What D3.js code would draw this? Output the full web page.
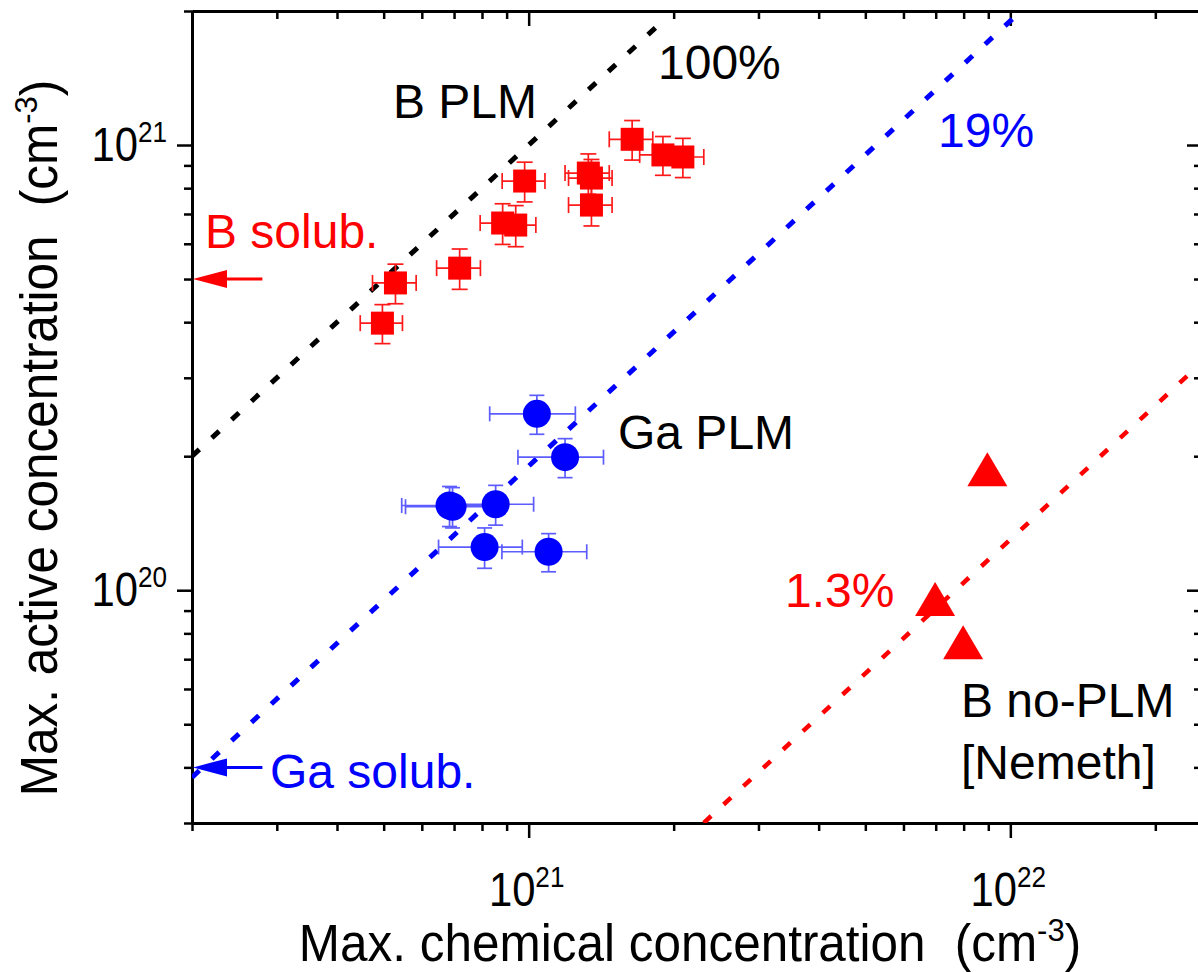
<!DOCTYPE html>
<html>
<head>
<meta charset="utf-8">
<script src="https://cdn.jsdelivr.net/npm/d3@7"></script>
<style>
  html, body { margin: 0; padding: 0; background: #fff; }
  svg { display: block; font-family: "Liberation Sans", Arial, Helvetica, sans-serif; }
</style>
</head>
<body>
<svg id="chart" width="1198" height="972"></svg>
<script>
// Boron, pulsed laser melting: max. chemical vs. max. active concentration (cm^-3)
const bPlmChem   = [4.97e20, 5.29e20, 7.19e20, 8.83e20, 9.40e20, 9.81e20, 1.33e21, 1.35e21, 1.35e21, 1.64e21, 1.90e21, 2.09e21];
const bPlmActive = [3.98e20, 4.90e20, 5.29e20, 6.68e20, 6.61e20, 8.30e20, 8.65e20, 8.43e20, 7.33e20, 1.03e21, 9.50e20, 9.40e20];
const bPlmChemErr   = [0.50e20, 0.55e20, 0.75e20, 0.90e20, 0.95e20, 1.00e20, 1.40e20, 1.40e20, 1.40e20, 1.70e20, 2.00e20, 2.20e20];
const bPlmActiveErr = [0.40e20, 0.50e20, 0.55e20, 0.70e20, 0.70e20, 0.85e20, 0.90e20, 0.85e20, 0.75e20, 1.05e20, 0.95e20, 0.95e20];

// Gallium, pulsed laser melting
const gaPlmChem   = [1.04e21, 1.19e21, 6.85e20, 6.95e20, 8.54e20, 8.10e20, 1.10e21];
const gaPlmActive = [2.49e20, 1.99e20, 1.55e20, 1.54e20, 1.56e20, 1.25e20, 1.22e20];
const gaPlmChemErr   = [2.1e20, 2.4e20, 1.4e20, 1.4e20, 1.7e20, 1.6e20, 2.2e20];
const gaPlmActiveErr = [2.5e19, 2.0e19, 1.6e19, 1.6e19, 1.6e19, 1.3e19, 1.2e19];

// Boron without PLM [Nemeth]
const bNoPlmChem   = [8.96e21, 6.98e21, 7.98e21];
const bNoPlmActive = [1.87e20, 9.55e19, 7.64e19];

// Activation-ratio guide lines (active = ratio * chemical)
const ratioLabels = ["100%", "19%", "1.3%"];
const ratioValues = [1.0, 0.19, 0.013];
const ratioChemFrom = [2.0e20, 2.0e20, 2.31e21];
const ratioChemTo   = [1.9e21, 1.05e22, 2.5e22];
const ratioColors   = ["#000000", "#0000ff", "#ff0000"];

// Solid solubility limits marked on the active-concentration axis
const solubLabels = ["B solub.", "Ga solub."];
const solubValues = [5.0e20, 4.0e19];
const solubColors = ["#ff0000", "#0000ff"];
const solubArrowTail = 2.8e20;

// Axis ticks
const xMajorTicks = [1e21, 1e22];
const xMinorTicks = [2e20, 3e20, 4e20, 5e20, 6e20, 7e20, 8e20, 9e20,
                     2e21, 3e21, 4e21, 5e21, 6e21, 7e21, 8e21, 9e21, 2e22];
const yMajorTicks = [1e20, 1e21];
const yMinorTicks = [3e19, 4e19, 5e19, 6e19, 7e19, 8e19, 9e19,
                     2e20, 3e20, 4e20, 5e20, 6e20, 7e20, 8e20, 9e20, 2e21];
const xDomain = [2e20, 2.5e22];
const yDomain = [3e19, 2e21];

const svg = d3.select("#chart");
const W = 1198, H = 972;
const plot = { left: 192, right: 1202, top: 11, bottom: 823 };

svg.append("rect").attr("width", W).attr("height", H).attr("fill", "#fff");

const x = d3.scaleLog().domain(xDomain).range([plot.left, plot.right]);
const y = d3.scaleLog().domain(yDomain).range([plot.bottom, plot.top]);

// ---- axes: outward ticks bottom/left, inward ticks top/right ----
function styleAxis(g) {
  g.selectAll("text").remove();
  g.select(".domain").attr("stroke", "#000").attr("stroke-width", 3);
  g.selectAll(".tick line").attr("stroke", "#000").attr("stroke-width", 2.5);
}
function addAxis(gen, transform, ticks, size) {
  svg.append("g")
    .attr("transform", transform)
    .call(gen.tickValues(ticks).tickSizeInner(size).tickSizeOuter(0).tickFormat(""))
    .call(styleAxis);
}
addAxis(d3.axisBottom(x), `translate(0,${plot.bottom})`, xMinorTicks, 8);
addAxis(d3.axisBottom(x), `translate(0,${plot.bottom})`, xMajorTicks, 15);
addAxis(d3.axisTop(x), `translate(0,${plot.top})`, xMinorTicks, -8);
addAxis(d3.axisTop(x), `translate(0,${plot.top})`, xMajorTicks, -15);
addAxis(d3.axisLeft(y), `translate(${plot.left},0)`, yMinorTicks, 8);
addAxis(d3.axisLeft(y), `translate(${plot.left},0)`, yMajorTicks, 15);
addAxis(d3.axisRight(y), `translate(${plot.right},0)`, yMinorTicks, -8);
addAxis(d3.axisRight(y), `translate(${plot.right},0)`, yMajorTicks, -15);

// ---- power-of-ten tick labels (condensed face) ----
function powLabel(px, py, v, anchor) {
  const e = Math.round(Math.log10(v));
  const t = svg.append("g").attr("transform", `translate(${px},${py}) scale(0.87,1)`)
    .append("text").attr("text-anchor", anchor).attr("font-size", 48).attr("fill", "#000");
  t.append("tspan").text("10");
  t.append("tspan").attr("font-size", 30).attr("dy", -19).text(e);
}
xMajorTicks.forEach(v => powLabel(x(v) - 2, 906, v, "middle"));
yMajorTicks.forEach(v => powLabel(167, y(v) + 16, v, "end"));

// ---- axis titles ----
function titleText(g, main) {
  const t = g.append("text").attr("text-anchor", "middle").attr("font-size", 51).attr("fill", "#000");
  t.append("tspan").text(main);
  t.append("tspan").attr("dx", 30).text("(cm");
  t.append("tspan").attr("font-size", 32).attr("dy", -20).text("-3");
  t.append("tspan").attr("dy", 20).text(")");
}
titleText(svg.append("g").attr("transform", "translate(690,961) scale(0.97,1)"),
          "Max. chemical concentration");
titleText(svg.append("g").attr("transform", "translate(57,438) rotate(-90) scale(0.97,1)"),
          "Max. active concentration");

// ---- clip to plot area ----
svg.append("clipPath").attr("id", "plotClip")
  .append("rect").attr("x", plot.left).attr("y", plot.top)
  .attr("width", plot.right - plot.left).attr("height", plot.bottom - plot.top);
const area = svg.append("g").attr("clip-path", "url(#plotClip)");

// ---- ratio guide lines ----
ratioValues.forEach((r, i) => {
  const pts = [[ratioChemFrom[i], r * ratioChemFrom[i]], [ratioChemTo[i], r * ratioChemTo[i]]];
  area.append("path")
    .attr("d", d3.line().x(d => x(d[0])).y(d => y(d[1]))(pts))
    .attr("fill", "none").attr("stroke", ratioColors[i])
    .attr("stroke-width", i === 2 ? 4.5 : 5)
    .attr("stroke-dasharray", "10 17");
});

// ---- error bars ----
function errorBars(xs, ys, xe, ye, color, cap) {
  const g = area.append("g").attr("stroke", color).attr("stroke-width", 1.7).attr("fill", "none");
  xs.forEach((xv, i) => {
    const yv = ys[i];
    const cx = x(xv), cy = y(yv);
    const x0 = x(xv - xe[i]), x1 = x(xv + xe[i]);
    const y0 = y(yv - ye[i]), y1 = y(yv + ye[i]);
    g.append("line").attr("x1", x0).attr("x2", x1).attr("y1", cy).attr("y2", cy);
    g.append("line").attr("x1", x0).attr("x2", x0).attr("y1", cy - cap / 2).attr("y2", cy + cap / 2);
    g.append("line").attr("x1", x1).attr("x2", x1).attr("y1", cy - cap / 2).attr("y2", cy + cap / 2);
    g.append("line").attr("x1", cx).attr("x2", cx).attr("y1", y0).attr("y2", y1);
    g.append("line").attr("x1", cx - cap / 2).attr("x2", cx + cap / 2).attr("y1", y0).attr("y2", y0);
    g.append("line").attr("x1", cx - cap / 2).attr("x2", cx + cap / 2).attr("y1", y1).attr("y2", y1);
  });
}
errorBars(bPlmChem, bPlmActive, bPlmChemErr, bPlmActiveErr, "#ff1a1a", 16);
errorBars(gaPlmChem, gaPlmActive, gaPlmChemErr, gaPlmActiveErr, "#5c5cff", 15);

// ---- markers ----
const sq = 23;
area.append("g").selectAll("rect").data(bPlmChem.map((v, i) => [v, bPlmActive[i]]))
  .join("rect")
  .attr("x", d => x(d[0]) - sq / 2).attr("y", d => y(d[1]) - sq / 2)
  .attr("width", sq).attr("height", sq).attr("fill", "#ff0000");

area.append("g").selectAll("circle").data(gaPlmChem.map((v, i) => [v, gaPlmActive[i]]))
  .join("circle")
  .attr("cx", d => x(d[0])).attr("cy", d => y(d[1])).attr("r", 14).attr("fill", "#0000ff");

const triW = 40, triH = 34;
area.append("g").selectAll("path").data(bNoPlmChem.map((v, i) => [v, bNoPlmActive[i]]))
  .join("path")
  .attr("d", d => {
    const cx = x(d[0]), cy = y(d[1]);
    return `M${cx},${cy - triH / 2}L${cx + triW / 2},${cy + triH / 2}L${cx - triW / 2},${cy + triH / 2}Z`;
  })
  .attr("fill", "#ff0000");

// ---- solubility arrows ----
solubValues.forEach((v, i) => {
  const yy = y(v), tip = x(xDomain[0]) + 1, tail = x(solubArrowTail);
  svg.append("line").attr("x1", tip + 20).attr("x2", tail).attr("y1", yy).attr("y2", yy)
    .attr("stroke", solubColors[i]).attr("stroke-width", 3);
  svg.append("path")
    .attr("d", `M${tip},${yy}L${tip + 34},${yy - 9}L${tip + 34},${yy + 9}Z`)
    .attr("fill", solubColors[i]);
});

// ---- annotations ----
const fs = 48;
function note(txt, px, py, color) {
  svg.append("text").attr("x", px).attr("y", py).attr("font-size", fs)
    .attr("fill", color).text(txt);
}
note("B PLM", 393, 118, "#000");
note(ratioLabels[0], 658, 79, ratioColors[0]);
note(ratioLabels[1], 938, 147, ratioColors[1]);
note(ratioLabels[2], 785, 607, ratioColors[2]);
note("Ga PLM", 618, 449, "#000");
note(solubLabels[0], 205, 248, solubColors[0]);
note(solubLabels[1], 270, 788, solubColors[1]);
note("B no-PLM", 961, 717, "#000");
note("[Nemeth]", 961, 779, "#000");
</script>
</body>
</html>
